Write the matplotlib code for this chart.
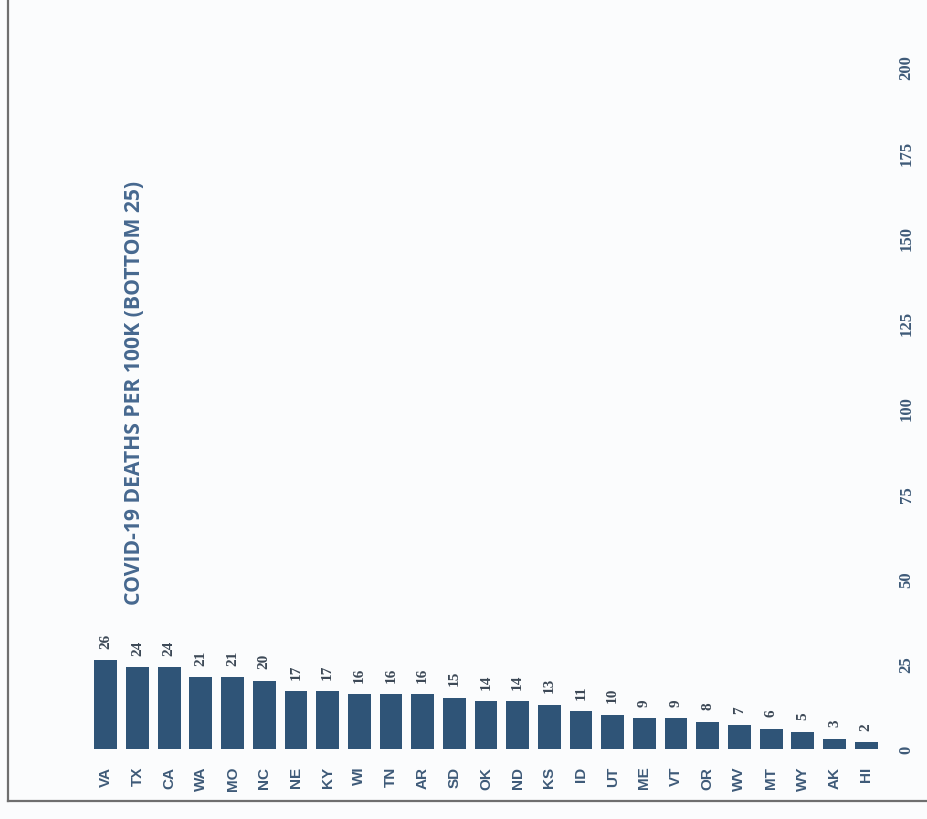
import matplotlib
matplotlib.use("Agg")
import matplotlib.pyplot as plt
from matplotlib.lines import Line2D

# Bottom 25 states by COVID-19 deaths per 100K
states = ["VA", "TX", "CA", "WA", "MO", "NC", "NE", "KY", "WI", "TN", "AR", "SD",
          "OK", "ND", "KS", "ID", "UT", "ME", "VT", "OR", "WV", "MT", "WY", "AK", "HI"]
deaths_per_100k = [26, 24, 24, 21, 21, 20, 17, 17, 16, 16, 16, 15,
                   14, 14, 13, 11, 10, 9, 9, 8, 7, 6, 5, 3, 2]
value_ticks = [0, 25, 50, 75, 100, 125, 150, 175, 200]
title = "COVID-19 DEATHS PER 100K (BOTTOM 25)"

W, H = 927, 820
bar_color = "#2f5477"
label_color = "#3c4856"
axis_text_color = "#3e5a78"
title_color = "#46688f"
bg = "#fbfcfd"

fig = plt.figure(figsize=(W / 100, H / 100), dpi=100, facecolor=bg)
ax = fig.add_axes([90 / W, (H - 750) / H, (882 - 90) / W, (750 - 68) / H])
ax.set_facecolor(bg)

x = list(range(len(states)))
ax.bar(x, deaths_per_100k, width=0.72, color=bar_color)
ax.set_xlim(-0.5, len(states) - 0.5)
ax.set_ylim(0, 200)

for xi, v in zip(x, deaths_per_100k):
    ax.annotate(str(v), (xi, v), xytext=(0, 9), textcoords="offset points",
                rotation=90, ha="center", va="bottom", fontsize=11,
                fontweight="bold", color=label_color, family="Liberation Serif")

ax.set_xticks(x)
ax.set_xticklabels(states, rotation=90, fontsize=11, fontweight="bold",
                   color=axis_text_color, family="Liberation Sans")
ax.tick_params(axis="x", length=0, pad=12)

ax.yaxis.tick_right()
ax.set_yticks(value_ticks)
ax.set_yticklabels([str(t) for t in value_ticks], rotation=90, va="center",
                   fontsize=12, fontweight="bold", color=axis_text_color,
                   family="Liberation Serif")
ax.tick_params(axis="y", length=0, pad=12)

for s in ax.spines.values():
    s.set_visible(False)

fig.text(135 / W, (H - 393) / H, title, rotation=90, ha="center", va="center",
         fontsize=15.2, fontweight="bold", color=title_color, family="Open Sans")

# Page frame lines along the left and bottom edges
fig.add_artist(Line2D([8 / W, 8 / W], [(H - 802) / H, 1.0], transform=fig.transFigure,
                      color="#6f6f6f", lw=1.6))
fig.add_artist(Line2D([8 / W, 1.0], [(H - 802) / H, (H - 802) / H],
                      transform=fig.transFigure, color="#6f6f6f", lw=1.6))

fig.savefig("out.png", dpi=100, facecolor=bg)
